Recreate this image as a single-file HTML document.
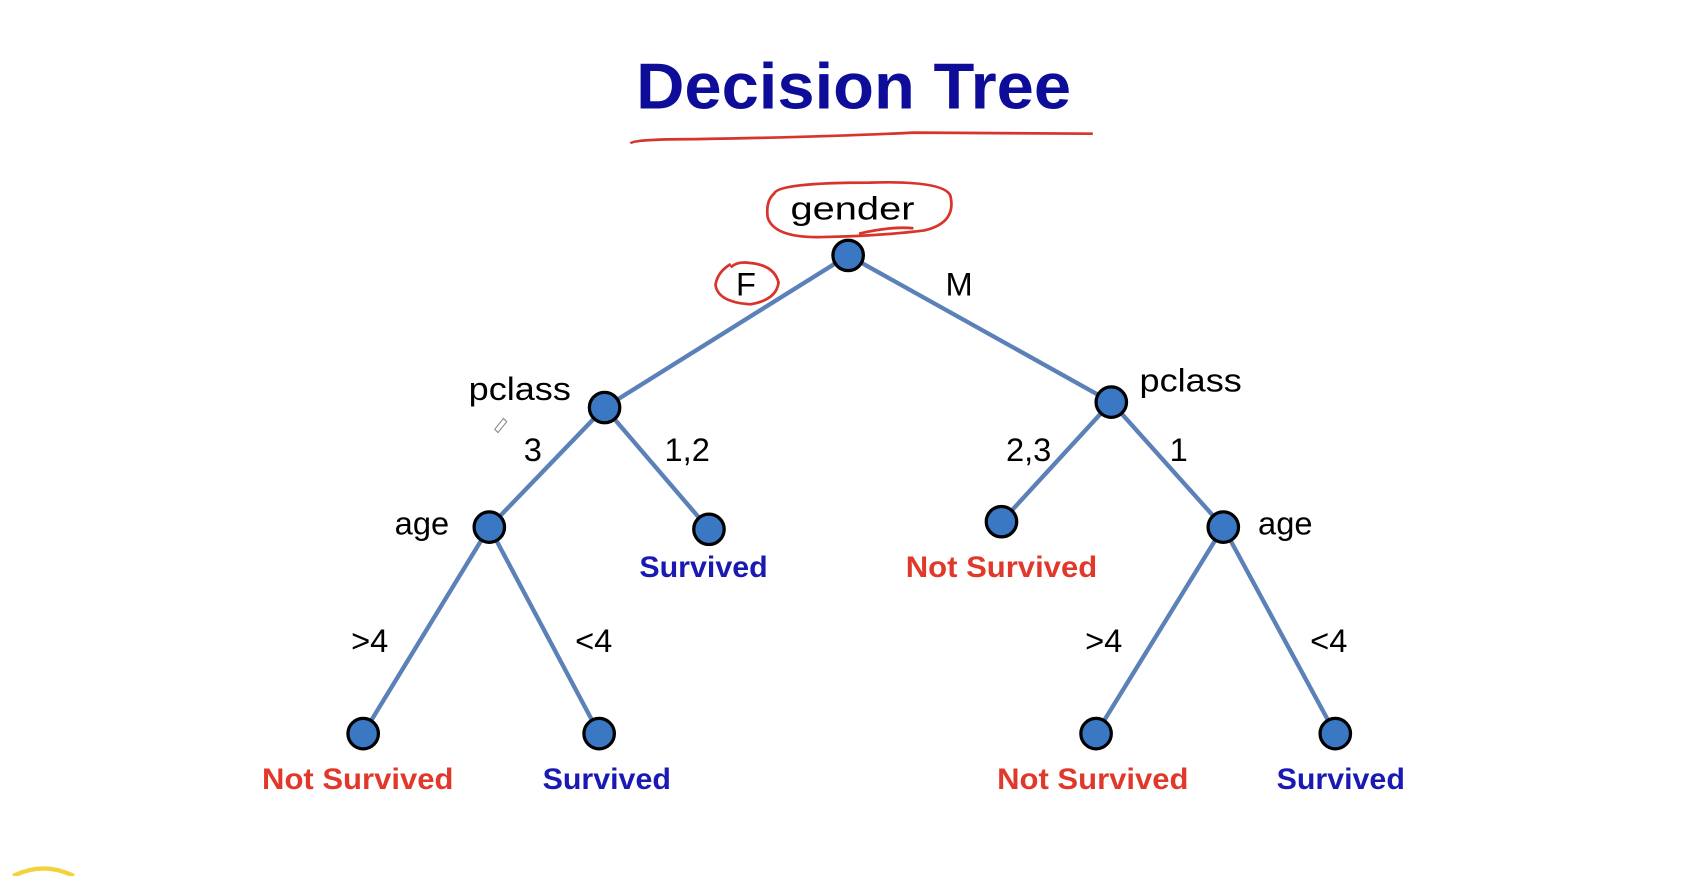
<!DOCTYPE html>
<html><head><style>html,body{margin:0;padding:0;background:#fff;overflow:hidden;width:1705px;height:876px}svg{display:block}</style></head>
<body>
<svg width="1705" height="876" viewBox="0 0 1568 806" preserveAspectRatio="none" xmlns="http://www.w3.org/2000/svg">
<rect width="1568" height="806" fill="#fff"/>
<text x="785" y="100" text-anchor="middle" font-family="Liberation Sans, sans-serif" font-weight="bold" font-size="60" fill="#0d0d99" textLength="400" lengthAdjust="spacingAndGlyphs">Decision Tree</text>
<path d="M580 132 Q582 128 640 128 Q760 126 840 122 L1005 123" stroke="#d9342b" stroke-width="2.5" fill="none"/>
<g stroke="#5b81b8" stroke-width="4" fill="none">
<line x1="780" y1="235" x2="556" y2="375"/><line x1="780" y1="235" x2="1022" y2="370"/>
<line x1="556" y1="375" x2="450" y2="485"/><line x1="556" y1="375" x2="652" y2="487"/>
<line x1="1022" y1="370" x2="921" y2="480"/><line x1="1022" y1="370" x2="1125" y2="485"/>
<line x1="450" y1="485" x2="334" y2="675"/><line x1="450" y1="485" x2="551" y2="675"/>
<line x1="1125" y1="485" x2="1008" y2="675"/><line x1="1125" y1="485" x2="1228" y2="675"/>
</g>
<g fill="#3a78c4" stroke="#000" stroke-width="3">
<circle cx="780" cy="235" r="14"/><circle cx="556" cy="375" r="14"/><circle cx="1022" cy="370" r="14"/>
<circle cx="450" cy="485" r="14"/><circle cx="652" cy="487" r="14"/><circle cx="921" cy="480" r="14"/><circle cx="1125" cy="485" r="14"/>
<circle cx="334" cy="675" r="14"/><circle cx="551" cy="675" r="14"/><circle cx="1008" cy="675" r="14"/><circle cx="1228" cy="675" r="14"/>
</g>
<g font-family="Liberation Sans, sans-serif" font-size="30" fill="#000" text-anchor="middle">
<text x="784" y="202" textLength="114" lengthAdjust="spacingAndGlyphs">gender</text>
<text x="686" y="272">F</text><text x="882" y="272">M</text>
<text x="478" y="368" textLength="94" lengthAdjust="spacingAndGlyphs">pclass</text>
<text x="1095" y="360" textLength="94" lengthAdjust="spacingAndGlyphs">pclass</text>
<text x="490" y="424">3</text><text x="632" y="424">1,2</text>
<text x="946" y="424">2,3</text><text x="1084" y="424">1</text>
<text x="388" y="492">age</text><text x="1182" y="492">age</text>
<text x="340" y="600">&gt;4</text><text x="546" y="600">&lt;4</text>
<text x="1015" y="600">&gt;4</text><text x="1222" y="600">&lt;4</text>
</g>
<g font-family="Liberation Sans, sans-serif" font-weight="bold" font-size="27" text-anchor="middle">
<text x="647" y="531" fill="#1a1ab3" textLength="118" lengthAdjust="spacingAndGlyphs">Survived</text>
<text x="921" y="531" fill="#e0392b" textLength="176" lengthAdjust="spacingAndGlyphs">Not Survived</text>
<text x="329" y="726" fill="#e0392b" textLength="176" lengthAdjust="spacingAndGlyphs">Not Survived</text>
<text x="558" y="726" fill="#1a1ab3" textLength="118" lengthAdjust="spacingAndGlyphs">Survived</text>
<text x="1005" y="726" fill="#e0392b" textLength="176" lengthAdjust="spacingAndGlyphs">Not Survived</text>
<text x="1233" y="726" fill="#1a1ab3" textLength="118" lengthAdjust="spacingAndGlyphs">Survived</text>
</g>
<g stroke="#d9342b" stroke-width="2.5" fill="none">
<path d="M712 178 Q716 168 800 168 Q868 166 874 180 Q880 205 850 212 Q810 217 760 218 Q712 220 706 200 Q704 185 712 178 Z"/>
<path d="M790 215 Q820 208 840 210"/>
<path d="M672 243 Q660 250 658 262 Q660 278 690 280 Q714 276 716 260 Q712 244 690 242 Q678 240 672 246"/>
</g>
<path d="M455 395 l8 -10 l3 3 l-8 10 z" stroke="#888" stroke-width="1" fill="none"/>
<path d="M12 806 Q40 792 68 806" stroke="#f3d23a" stroke-width="4" fill="none"/>
</svg>
</body></html>
